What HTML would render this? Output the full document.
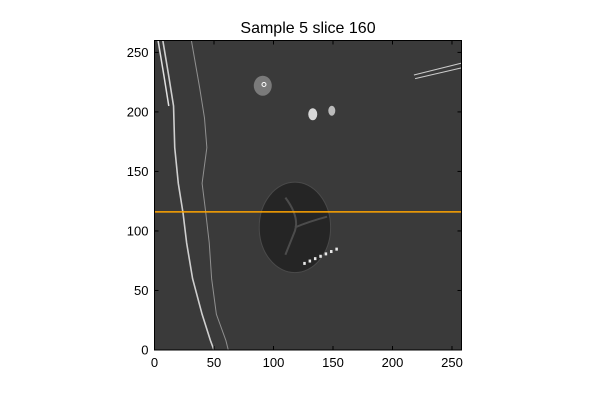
<!DOCTYPE html>
<html><head><meta charset="utf-8"><style>
body{margin:0;background:#fff;}
svg{display:block;font-family:"Liberation Sans","DejaVu Sans",sans-serif;}
</style></head><body>
<svg id="c" width="600" height="400">
<text x="308" y="33" font-size="16" text-anchor="middle">Sample 5 slice 160</text>
<g id="img"></g>
<g id="ax"></g>
</svg>
<script>
const xTicks=[0,50,100,150,200,250];
const yTicks=[0,50,100,150,200,250];
const sliceY=[116];
const xMax=258, yMax=260;
const L=154.5,R=461.5,T=40.5,B=350;
const sx=v=>L+v*(R-L)/xMax, sy=v=>B-v*(B-T)/yMax;
const NS='http://www.w3.org/2000/svg';
const img=document.getElementById('img'), ax=document.getElementById('ax');
function mk(p,tag,a){const e=document.createElementNS(NS,tag);for(const k in a)e.setAttribute(k,a[k]);p.appendChild(e);return e;}
const bg=mk(img,'rect',{x:L,y:T,width:R-L,height:B-T,fill:'#3a3a3a'});


const skin=[[7,260],[12,230],[16,205],[17,170],[20,140],[24,115],[27,90],[32,60],[40,30],[47,8],[50,0]];
const skin2=[[31,260],[38,220],[42,195],[44,170],[40,140],[43,116],[46,90],[48,60],[52,30],[60,8],[62,0]];
const pts=a=>a.map(p=>sx(p[0])+','+sy(p[1])).join(' ');
let e=mk(img,'polyline',{points:pts(skin),fill:'none',stroke:'#cfcfcf','stroke-width':1.6});


e=mk(img,'polyline',{points:pts([[3,260],[8,230],[12,205]]),fill:'none',stroke:'#e0e0e0','stroke-width':1.5});


e=mk(img,'polyline',{points:pts(skin2),fill:'none',stroke:'#909090','stroke-width':1});


e=mk(img,'ellipse',{cx:sx(118),cy:sy(103),rx:30*1.19,ry:38*1.19,fill:'#252525',stroke:'#4a4a4a','stroke-width':1});


e=mk(img,'path',{d:`M${sx(110)},${sy(128)} Q${sx(122)},${sy(112)} ${sx(118)},${sy(100)} Q${sx(112)},${sy(85)} ${sx(110)},${sy(80)} M${sx(118)},${sy(103)} Q${sx(130)},${sy(108)} ${sx(145)},${sy(112)}`,fill:'none',stroke:'#4c4c4c','stroke-width':2});


for(let i=0;i<7;i++){e=mk(img,'rect',{x:sx(125+i*4.5),y:sy(74+i*2),width:2.5,height:3,fill:'#e8e8e8'});

}
e=mk(img,'ellipse',{cx:sx(91),cy:sy(222),rx:9,ry:10,fill:'#7a7a7a'});


e=mk(img,'circle',{cx:sx(92),cy:sy(223),r:2,fill:'none',stroke:'#fff','stroke-width':1});


e=mk(img,'ellipse',{cx:sx(133),cy:sy(198),rx:4.5,ry:6,fill:'#d8d8d8'});


e=mk(img,'ellipse',{cx:sx(149),cy:sy(201),rx:3.5,ry:5,fill:'#bbbbbb'});


e=mk(img,'path',{d:`M${sx(218)},${sy(231)} L${sx(258)},${sy(241)} M${sx(219)},${sy(228)} L${sx(258)},${sy(237)}`,stroke:'#cccccc','stroke-width':1,fill:'none'});


sliceY.forEach(v=>{const l=mk(img,'line',{x1:L,x2:R,y1:sy(v),y2:sy(v),stroke:'#ffa500','stroke-width':1.5});

});
const fr=mk(ax,'rect',{x:L,y:T,width:R-L,height:B-T,fill:'none',stroke:'#000','stroke-width':1});


xTicks.forEach(v=>{const x=sx(v);
mk(ax,'line',{x1:x,x2:x,y1:B,y2:B-4,stroke:'#000'});mk(ax,'line',{x1:x,x2:x,y1:T,y2:T+4,stroke:'#000'});
const t=mk(ax,'text',{x:x,y:B+17,'font-size':13,'text-anchor':'middle'});t.textContent=v;

});
yTicks.forEach(v=>{const y=sy(v);
mk(ax,'line',{x1:L,x2:L+4,y1:y,y2:y,stroke:'#000'});mk(ax,'line',{x1:R,x2:R-4,y1:y,y2:y,stroke:'#000'});
const t=mk(ax,'text',{x:L-6,y:y+4.5,'font-size':13,'text-anchor':'end'});t.textContent=v;

});
</script>
</body></html>
